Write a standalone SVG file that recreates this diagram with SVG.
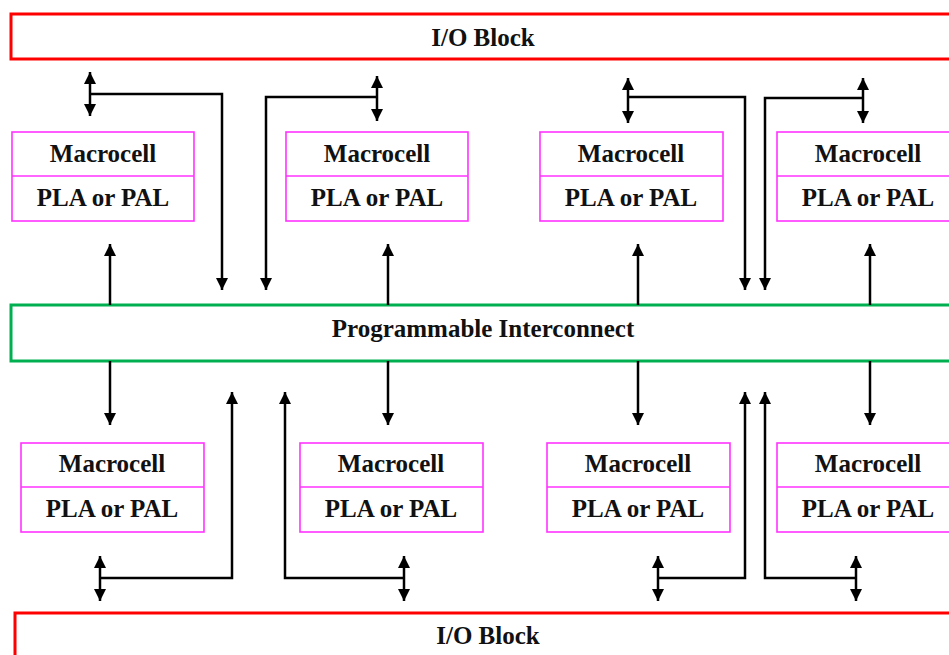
<svg xmlns="http://www.w3.org/2000/svg" width="949" height="655" viewBox="0 0 949 655">
<style>
.t{font-family:"Liberation Serif","Times New Roman",serif;font-weight:bold;font-size:25px;fill:#111;text-anchor:middle}
.io{fill:#fff;stroke:#ff0000;stroke-width:3}
.pi{fill:#fff;stroke:#00b050;stroke-width:3}
.mc{fill:#fff;stroke:#ff33ff;stroke-width:1.6}
.c{fill:none;stroke:#000;stroke-width:2.5}
.a{marker-end:url(#ah)}
.d{marker-start:url(#ah);marker-end:url(#ah)}
</style>
<defs>
<marker id="ah" markerUnits="userSpaceOnUse" markerWidth="13" markerHeight="12" refX="12" refY="6" orient="auto-start-reverse" viewBox="0 0 13 12">
<path d="M0,0 L12,6 L0,12 z" fill="#000"/>
</marker>
</defs>
<rect width="949" height="655" fill="#fff"/>
<g id="io-top"><rect class="io" x="11" y="14" width="960" height="45"/><text class="t" x="483" y="46">I/O Block</text></g>
<g id="interconnect"><rect class="pi" x="11" y="305" width="960" height="56"/><text class="t" x="483" y="337">Programmable Interconnect</text></g>
<g id="io-bottom"><rect class="io" x="15" y="613" width="960" height="60"/><text class="t" x="488" y="644">I/O Block</text></g>
<g id="mc-t1"><rect class="mc" x="12" y="132" width="182" height="89"/><line class="mc" x1="12" y1="176" x2="194" y2="176"/><text class="t" x="103" y="162">Macrocell</text><text class="t" x="103" y="206">PLA or PAL</text></g>
<g id="mc-t2"><rect class="mc" x="286" y="132" width="182" height="89"/><line class="mc" x1="286" y1="176" x2="468" y2="176"/><text class="t" x="377" y="162">Macrocell</text><text class="t" x="377" y="206">PLA or PAL</text></g>
<g id="mc-t3"><rect class="mc" x="540" y="132" width="183" height="89"/><line class="mc" x1="540" y1="176" x2="723" y2="176"/><text class="t" x="631" y="162">Macrocell</text><text class="t" x="631" y="206">PLA or PAL</text></g>
<g id="mc-t4"><rect class="mc" x="777" y="132" width="182" height="89"/><line class="mc" x1="777" y1="176" x2="959" y2="176"/><text class="t" x="868" y="162">Macrocell</text><text class="t" x="868" y="206">PLA or PAL</text></g>
<g id="mc-b1"><rect class="mc" x="21" y="443" width="183" height="89"/><line class="mc" x1="21" y1="487" x2="204" y2="487"/><text class="t" x="112" y="472">Macrocell</text><text class="t" x="112" y="517">PLA or PAL</text></g>
<g id="mc-b2"><rect class="mc" x="300" y="443" width="183" height="89"/><line class="mc" x1="300" y1="487" x2="483" y2="487"/><text class="t" x="391" y="472">Macrocell</text><text class="t" x="391" y="517">PLA or PAL</text></g>
<g id="mc-b3"><rect class="mc" x="547" y="443" width="183" height="89"/><line class="mc" x1="547" y1="487" x2="730" y2="487"/><text class="t" x="638" y="472">Macrocell</text><text class="t" x="638" y="517">PLA or PAL</text></g>
<g id="mc-b4"><rect class="mc" x="777" y="443" width="182" height="89"/><line class="mc" x1="777" y1="487" x2="959" y2="487"/><text class="t" x="868" y="472">Macrocell</text><text class="t" x="868" y="517">PLA or PAL</text></g>
<g id="connectors">
<line class="c d" x1="90" y1="72" x2="90" y2="116"/>
<polyline class="c a" points="90,94 222,94 222,290"/>
<line class="c d" x1="377" y1="76" x2="377" y2="121"/>
<polyline class="c a" points="377,97 266,97 266,290"/>
<line class="c d" x1="628" y1="78" x2="628" y2="123"/>
<polyline class="c a" points="628,97 745,97 745,290"/>
<line class="c d" x1="863" y1="78" x2="863" y2="123"/>
<polyline class="c a" points="863,98 765,98 765,290"/>
<line class="c a" x1="110" y1="305" x2="110" y2="244"/>
<line class="c a" x1="388" y1="305" x2="388" y2="244"/>
<line class="c a" x1="638" y1="305" x2="638" y2="244"/>
<line class="c a" x1="870" y1="305" x2="870" y2="244"/>
<line class="c a" x1="110" y1="361" x2="110" y2="425"/>
<line class="c a" x1="388" y1="361" x2="388" y2="425"/>
<line class="c a" x1="638" y1="361" x2="638" y2="425"/>
<line class="c a" x1="870" y1="361" x2="870" y2="425"/>
<line class="c d" x1="100" y1="556" x2="100" y2="601"/>
<polyline class="c a" points="100,578 232,578 232,392"/>
<line class="c d" x1="404" y1="556" x2="404" y2="601"/>
<polyline class="c a" points="404,578 285,578 285,392"/>
<line class="c d" x1="658" y1="556" x2="658" y2="601"/>
<polyline class="c a" points="658,578 745,578 745,392"/>
<line class="c d" x1="856" y1="556" x2="856" y2="601"/>
<polyline class="c a" points="856,578 765,578 765,392"/>
</g>
</svg>
